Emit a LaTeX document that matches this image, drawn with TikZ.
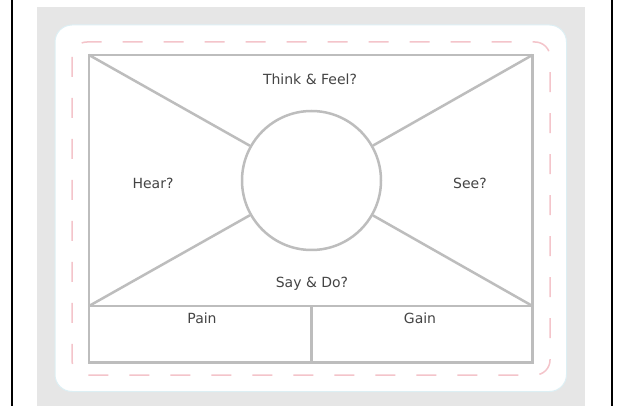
\documentclass[tikz,border=0pt]{standalone}
\usepackage{fontspec}
\setmainfont{DejaVu Sans}
\definecolor{bggray}{HTML}{E6E6E6}
\definecolor{cardedge}{HTML}{DDEFF4}
\definecolor{dashpink}{HTML}{F4C4CA}
\definecolor{linegray}{HTML}{BDBDBD}
\definecolor{txt}{HTML}{444444}
\tikzset{
  frame/.style={draw=linegray, line width=2.5pt},
  label/.style={text=txt, font=\fontsize{14}{16}\selectfont, anchor=base, inner sep=0pt},
}
\begin{document}
\begin{tikzpicture}[x=1pt,y=-1pt]
\useasboundingbox (0,0) rectangle (619,406);
\fill[white] (0,0) rectangle (619,406);
% outer black side lines
\draw[black, line width=2pt] (12,0) -- (12,406);
\draw[black, line width=2pt] (611.5,0) -- (611.5,406);
% gray background
\fill[bggray] (37,7) rectangle (585,406);
% white card
\draw[fill=white, draw=cardedge, line width=1pt, rounded corners=17pt] (55,25) rectangle (566.5,391.5);
% dashed pink border
\draw[dashpink, line width=1.5pt, dash pattern=on 20pt off 21pt, rounded corners=15pt] (72,42) rectangle (550,375);
% coordinates
\coordinate (tl) at (89,55);
\coordinate (tr) at (532.5,55);
\coordinate (ml) at (89,306);
\coordinate (mr) at (532.5,306);
\coordinate (bl) at (89,362.5);
\coordinate (br) at (532.5,362.5);
\coordinate (dt) at (311.5,306);
\coordinate (db) at (311.5,362.5);
% main frame
\draw[frame] (tl) rectangle (br);
\draw[frame] (ml) -- (mr);
\draw[frame] (dt) -- (db);
% circle
\node[frame, circle, minimum size=139pt, inner sep=0pt] (c) at (311.5,180.5) {};
\draw[frame] (tl) -- (c);
\draw[frame] (tr) -- (c);
\draw[frame] (ml) -- (c);
\draw[frame] (mr) -- (c);
% labels
\node[label] (think) at (310,85) {Think \& Feel?};
\node[label] (hear) at (153,189) {Hear?};
\node[label] (see) at (470,188.5) {See?};
\node[label] (say) at (312,288) {Say \& Do?};
\node[label] (pain) at (202,323.5) {Pain};
\node[label] (gain) at (420,323.5) {Gain};
\end{tikzpicture}
\end{document}
